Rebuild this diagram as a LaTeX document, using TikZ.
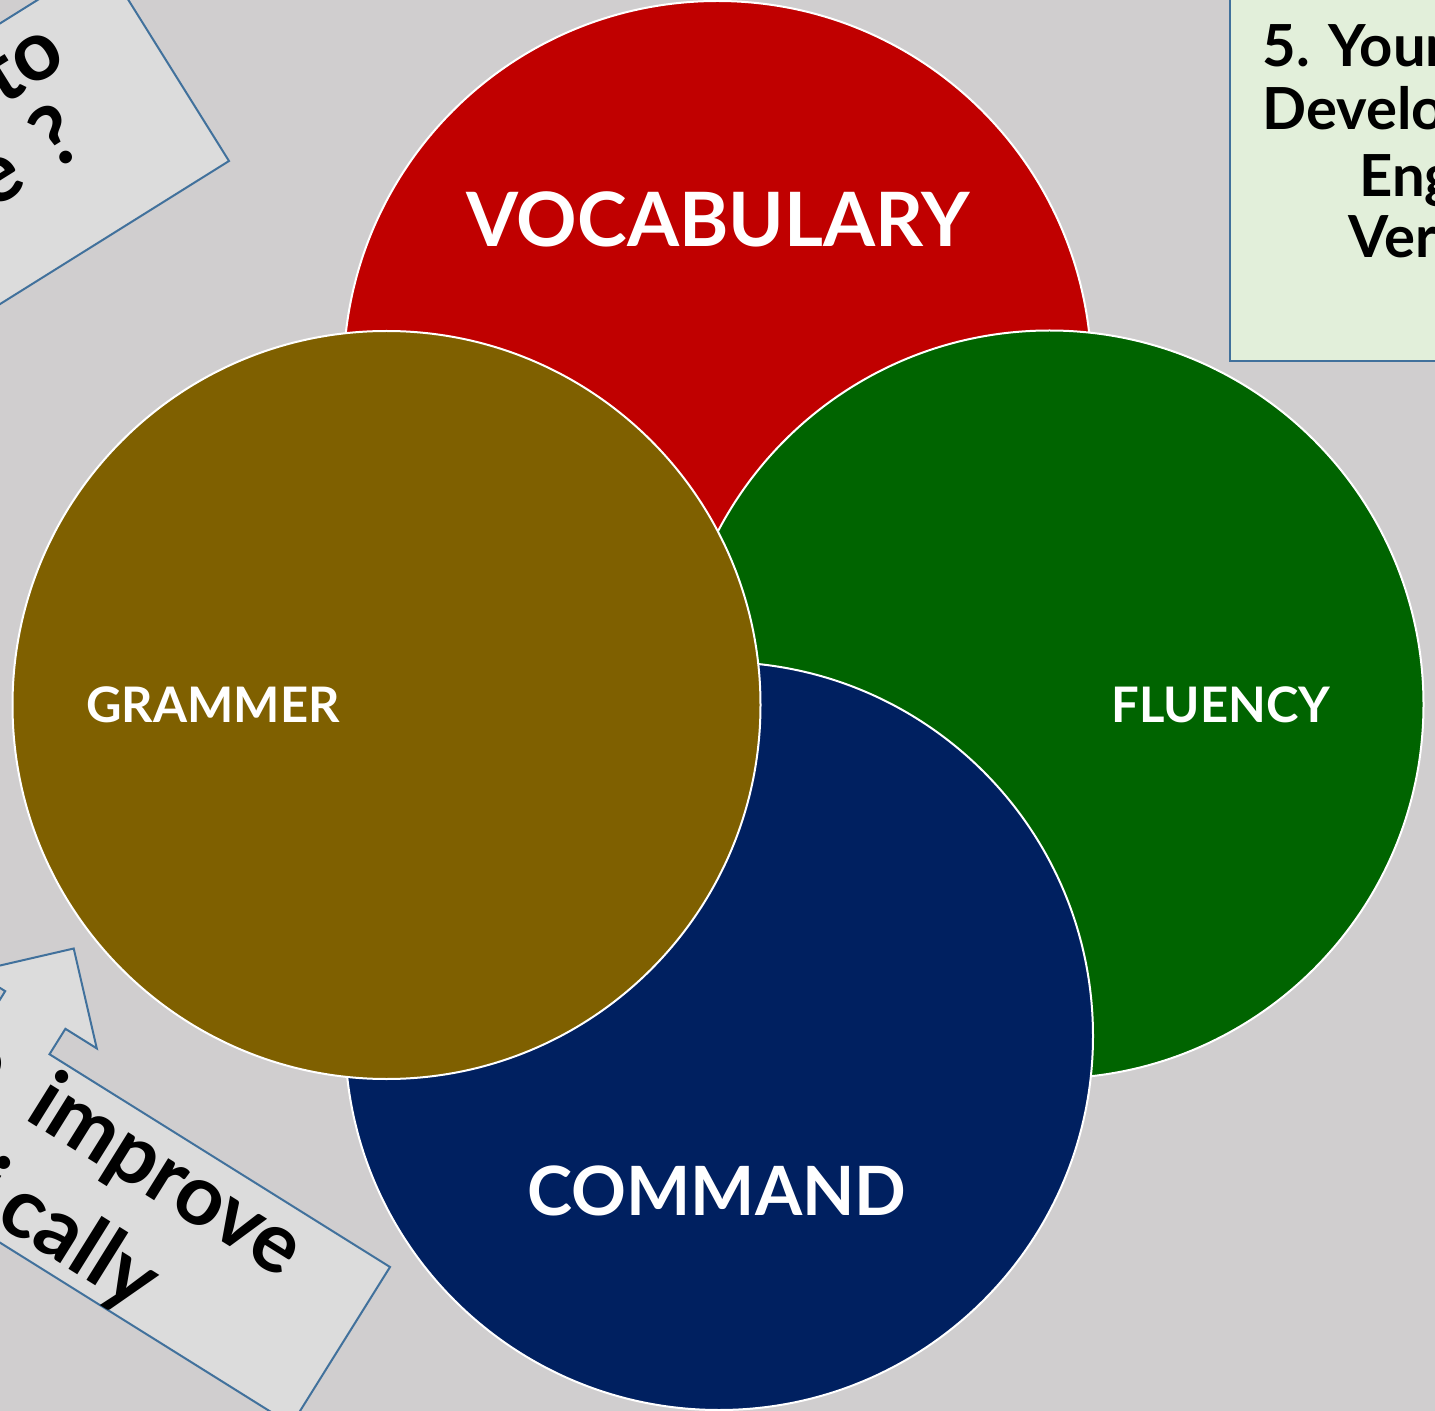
\documentclass[tikz,border=0pt]{standalone}
\usepackage{fontspec}
\setmainfont{Lato}
\usetikzlibrary{positioning}

\definecolor{slidegray}{RGB}{208,206,207}
\definecolor{notegray}{RGB}{220,220,220}
\definecolor{noteedge}{RGB}{65,113,156}
\definecolor{notegreen}{RGB}{226,239,218}
\definecolor{vocabred}{RGB}{192,0,0}
\definecolor{grammarolive}{RGB}{127,96,0}
\definecolor{fluencygreen}{RGB}{0,100,0}
\definecolor{commandblue}{RGB}{0,32,96}

\tikzset{
  petal/.style={circle, draw=white, line width=1pt, minimum size=374pt, inner sep=0pt},
  bigword/.style={text=white, inner sep=0pt, font=\fontsize{37.5}{45}\selectfont\bfseries},
  smallword/.style={text=white, inner sep=0pt, font=\fontsize{24.5}{30}\selectfont\bfseries},
  noteword/.style={inner sep=0pt, font=\fontsize{42}{50}\selectfont\bfseries},
  cornerword/.style={inner sep=0pt, font=\fontsize{29}{34}\selectfont\bfseries},
  notebox/.style={draw=noteedge, line width=1pt, fill=notegray},
}

\begin{document}
\begin{tikzpicture}[x=0.5pt,y=-0.5pt]
\useasboundingbox (0,0) rectangle (1435,1411);
\clip (0,0) rectangle (1435,1411);
\fill[slidegray] (0,0) rectangle (1435,1411);

% tilted note, top left
\node[notebox, rotate=32, outer sep=0pt, minimum width=350pt, minimum height=119pt,
  anchor=south east] (asknote) at (229,161) {};
\node[noteword, rotate=32, anchor=base east] (asktop) at (70,64) {to};
\node[noteword, rotate=32, anchor=base east] (askbottom) at (88,151) {ge\hspace{0.35em}?};

% arrow note, bottom left
\begin{scope}[shift={(390,1267)}, rotate=-32]
\draw[notebox] (0,0) -- (-401.5,0) -- (-401.5,-30) -- (-364.5,-30) -- (-437,-102.5)
  -- (-509.5,-30) -- (-472.5,-30) -- (-472.5,0) -- (-874,0) -- (-874,186)
  -- (0,186) -- cycle;
\node[noteword, rotate=-32, anchor=base east] (improveline) at (-85,68) {to\hspace{0.5em}improve};
\node[noteword, rotate=-32, anchor=base east] (callyline) at (-190,172) {i\kern6pt cally};
\end{scope}

% green note, top right
\draw[notebox, fill=notegreen] (1230,-20) rectangle (1500,361);
\node[cornerword, anchor=base west] (lineone) at (1262,67) {5. Your};
\node[cornerword, anchor=base west] (linetwo) at (1262,130) {Develop};
\node[cornerword, anchor=base west] (linethree) at (1359,197) {Eng};
\node[cornerword, anchor=base west] (linefour) at (1348,258) {Ver};

% the four circles
\node[petal, fill=vocabred] (vocab) at (717.5,375) {};
\node[petal, fill=fluencygreen] (fluency) at (1049.5,704.5) {};
\node[petal, fill=commandblue] (command) at (719,1036) {};
\node[petal, fill=grammarolive] (grammar) at (386.5,705) {};

\node[bigword] (vocabtext) at (718,219) {VOCABULARY};
\node[smallword] (grammartext) at (213,705) {GRAMMER};
\node[smallword] (fluencytext) at (1221,705) {FLUENCY};
\node[bigword, font=\fontsize{34}{40}\selectfont\bfseries] (commandtext) at (717,1191) {COMMAND};
\end{tikzpicture}
\end{document}
